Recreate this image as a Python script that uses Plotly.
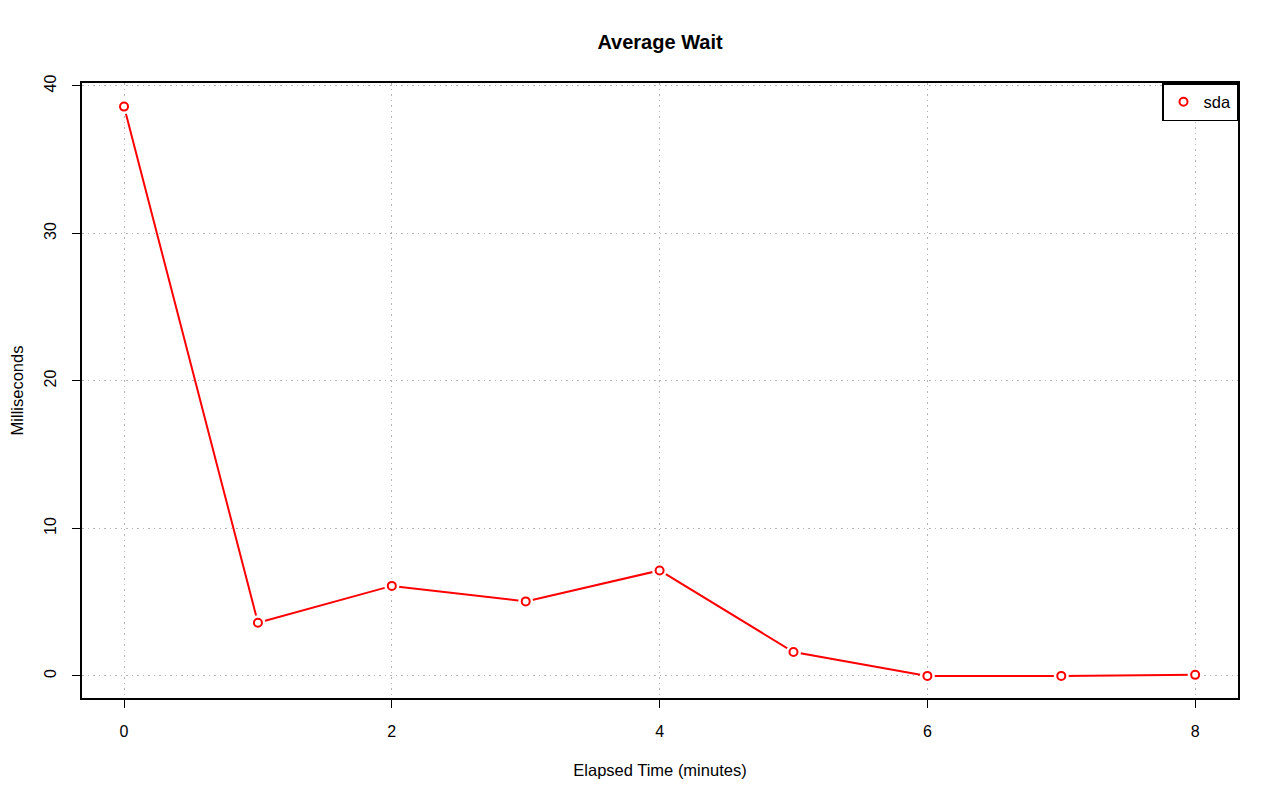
import plotly.graph_objects as go

minutes = [0, 1, 2, 3, 4, 5, 6, 7, 8]
wait_ms = [38.6, 3.6, 6.1, 5.05, 7.15, 1.62, 0.0, 0.0, 0.07]
series_name = "sda"

fig = go.Figure()
fig.add_trace(go.Scatter(x=minutes, y=wait_ms, mode="lines",
                         line=dict(color="red", width=2), showlegend=False, hoverinfo="skip"))
fig.add_trace(go.Scatter(x=minutes, y=wait_ms, mode="markers",
                         marker=dict(color="white", size=15, line=dict(width=0)),
                         showlegend=False, hoverinfo="skip"))
fig.add_trace(go.Scatter(x=minutes, y=wait_ms, mode="markers", name=series_name,
                         marker=dict(color="white", size=8, symbol="circle",
                                     line=dict(color="red", width=2))))

axis_common = dict(showline=True, linecolor="black", linewidth=1.5, mirror=True,
                   ticks="outside", ticklen=8, tickcolor="black", tickwidth=1,
                   showgrid=True, gridcolor="#b4b4b4", griddash="1.5px,4px", gridwidth=1.2,
                   zeroline=False, automargin=False, tickfont=dict(size=16, color="black"))

fig.update_layout(
    width=1280, height=801,
    paper_bgcolor="white", plot_bgcolor="white",
    font=dict(family="Liberation Sans, Arial, sans-serif", color="black"),
    margin=dict(l=74, r=50, t=75, b=111),
    title=dict(text="<b>Average Wait</b>", x=0.5, xanchor="center", y=0.9576, yanchor="middle",
               xref="paper", font=dict(size=20, color="black")),
    xaxis=dict(range=[-0.314, 8.32], tickvals=[0, 2, 4, 6, 8], ticklabelstandoff=10,
               title=dict(text="Elapsed Time (minutes)", font=dict(size=16.5), standoff=25),
               **axis_common),
    yaxis=dict(range=[-1.5, 40.2], tickvals=[0, 10, 20, 30, 40], tickangle=-90, ticklabelstandoff=10,
               title=dict(text="Milliseconds", font=dict(size=16.5), standoff=25),
               **axis_common),
    legend=dict(x=1, y=1, xanchor="right", yanchor="top", bordercolor="black", borderwidth=1.5,
                bgcolor="white", font=dict(size=16.5), itemwidth=30, tracegroupgap=0),
)

fig.write_html("out.html")
